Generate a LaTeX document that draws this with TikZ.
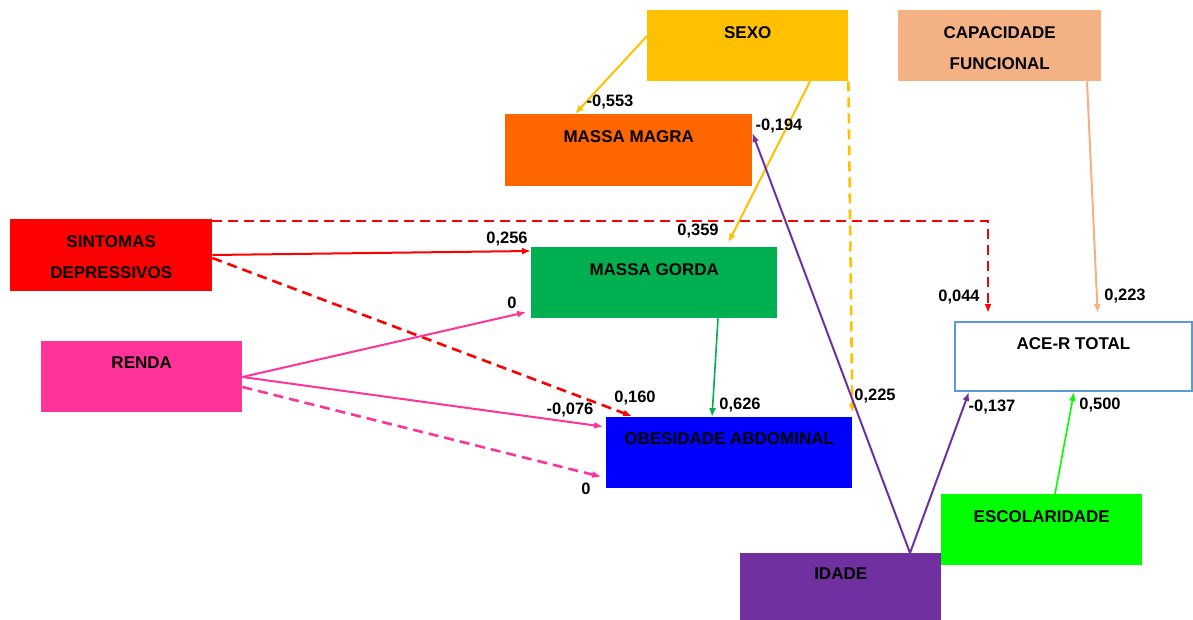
\documentclass[tikz,border=0pt]{standalone}
\usepackage{fontspec}
\setmainfont{Liberation Sans}
\usetikzlibrary{arrows.meta, positioning}

\definecolor{sexocol}{HTML}{FFC000}
\definecolor{capcol}{HTML}{F4B183}
\definecolor{magracol}{HTML}{FF6600}
\definecolor{sintcol}{HTML}{FF0000}
\definecolor{gordacol}{HTML}{00B050}
\definecolor{rendacol}{HTML}{FF3399}
\definecolor{acecol}{HTML}{5B9BD5}
\definecolor{obescol}{HTML}{0000FF}
\definecolor{escolcol}{HTML}{00FF00}
\definecolor{idadecol}{HTML}{7030A0}

\tikzset{
    box/.style={rectangle, inner sep=0pt, anchor=north west, minimum height=71pt},
    boxtext/.style={font=\bfseries\fontsize{17}{31}\selectfont, align=center, inner sep=0pt},
    coef/.style={font=\bfseries\fontsize{16.5}{20}\selectfont, inner sep=0pt},
    link/.style={line width=2pt, ->},
    dashlink/.style={line width=2.6pt, dash pattern=on 10pt off 6pt}
}

\begin{document}
\begin{tikzpicture}[x=1pt, y=-1pt, >={Latex[length=9pt,width=7pt]}]
    \useasboundingbox (0,0) rectangle (1193,620);

    \node[box, fill=sexocol, minimum width=201pt] (sexo) at (647,10) {};
    \node[box, fill=capcol, minimum width=203pt] (capac) at (898,10) {};
    \node[box, fill=magracol, minimum width=247pt, minimum height=72pt] (magra) at (505,114) {};
    \node[box, fill=sintcol, minimum width=202pt, minimum height=72pt] (sint) at (10,219) {};
    \node[box, fill=gordacol, minimum width=246pt] (gorda) at (531,247) {};
    \node[box, fill=rendacol, minimum width=201pt] (renda) at (41,341) {};
    \node[box, draw=acecol, line width=2pt, fill=white, minimum width=237pt, minimum height=69pt] (ace) at (954,321) {};
    \node[box, fill=obescol, minimum width=246pt] (obes) at (606,417) {};
    \node[box, fill=escolcol, minimum width=201pt] (escol) at (941,494) {};
    \node[box, fill=idadecol, minimum width=201pt] (idade) at (740,553) {};

    \node[boxtext, below=16pt of sexo.north] (sexo-t) {SEXO};
    \node[boxtext, below=16pt of capac.north] (capac-t) {CAPACIDADE\\FUNCIONAL};
    \node[boxtext, below=16pt of magra.north] (magra-t) {MASSA MAGRA};
    \node[boxtext, below=16pt of sint.north] (sint-t) {SINTOMAS\\DEPRESSIVOS};
    \node[boxtext, below=16pt of gorda.north] (gorda-t) {MASSA GORDA};
    \node[boxtext, below=16pt of renda.north] (renda-t) {RENDA};
    \node[boxtext, below=16pt of ace.north] (ace-t) {ACE-R TOTAL};
    \node[boxtext, below=15pt of obes.north] (obes-t) {OBESIDADE ABDOMINAL};
    \node[boxtext, below=16pt of escol.north] (escol-t) {ESCOLARIDADE};
    \node[boxtext, below=15pt of idade.north] (idade-t) {IDADE};

    % sexo
    \draw[link, sexocol] (sexo.west |- 0,36) -- (magra.north -| 575,0);
    \draw[link, sexocol, shorten >=5pt] (sexo.south -| 810,0) -- (gorda.north -| 726,0);
    \draw[link, sexocol, dashlink, shorten >=4pt] (sexo.south east) -- (obes.north east);

    % idade
    \draw[link, idadecol] (idade.north -| 910,0) -- (magra.east |- 0,133);
    \draw[link, idadecol] (idade.north -| 910,0) -- (ace.south -| 969,0);

    % ace-r
    \draw[link, escolcol, line width=1.6pt] (escol.north -| 1055,0) -- (ace.south -| 1074,0);
    \draw[link, capcol, shorten >=8pt] (capac.south -| 1087,0) -- (ace.north -| 1098,0);
    \draw[link, sintcol, dashlink, shorten >=8pt] (sint.east |- 0,221) -| (ace.north -| 988,0);

    % sintomas
    \draw[link, sintcol] (sint.east |- 0,255) -- (gorda.west |- 0,251);
    \draw[link, sintcol, dashlink, shorten >=2pt] (sint.east |- 0,258) -- (obes.north -| 634,0);

    % renda
    \draw[link, rendacol, shorten >=5pt] (renda.east |- 0,377) -- (gorda.west |- 0,311);
    \draw[link, rendacol, shorten >=3pt] (renda.east |- 0,377) -- (obes.west |- 0,427);
    \draw[link, rendacol, dashlink, shorten >=5pt] (renda.east |- 0,387) -- (obes.west |- 0,478);

    % gorda
    \draw[link, gordacol, line width=1.6pt] (gorda.south -| 718,0) -- (obes.north -| 712,0);

\foreach \xx/\yy/\val [count=\i] in {610/102/{-0,553}, 779/126/{-0,194}, 698/231/{0,359},
    507/239/{0,256}, 512/303/0, 635/398/{0,160}, 570/410/{-0,076}, 740/405/{0,626},
    586/489/0, 875/396/{0,225}, 992/407/{-0,137}, 1100/405/{0,500}, 959/297/{0,044},
    1125/296/{0,223}}
{
    \node[coef] (c\i) at (\xx,\yy) {\val};
}

\end{tikzpicture}
\end{document}
